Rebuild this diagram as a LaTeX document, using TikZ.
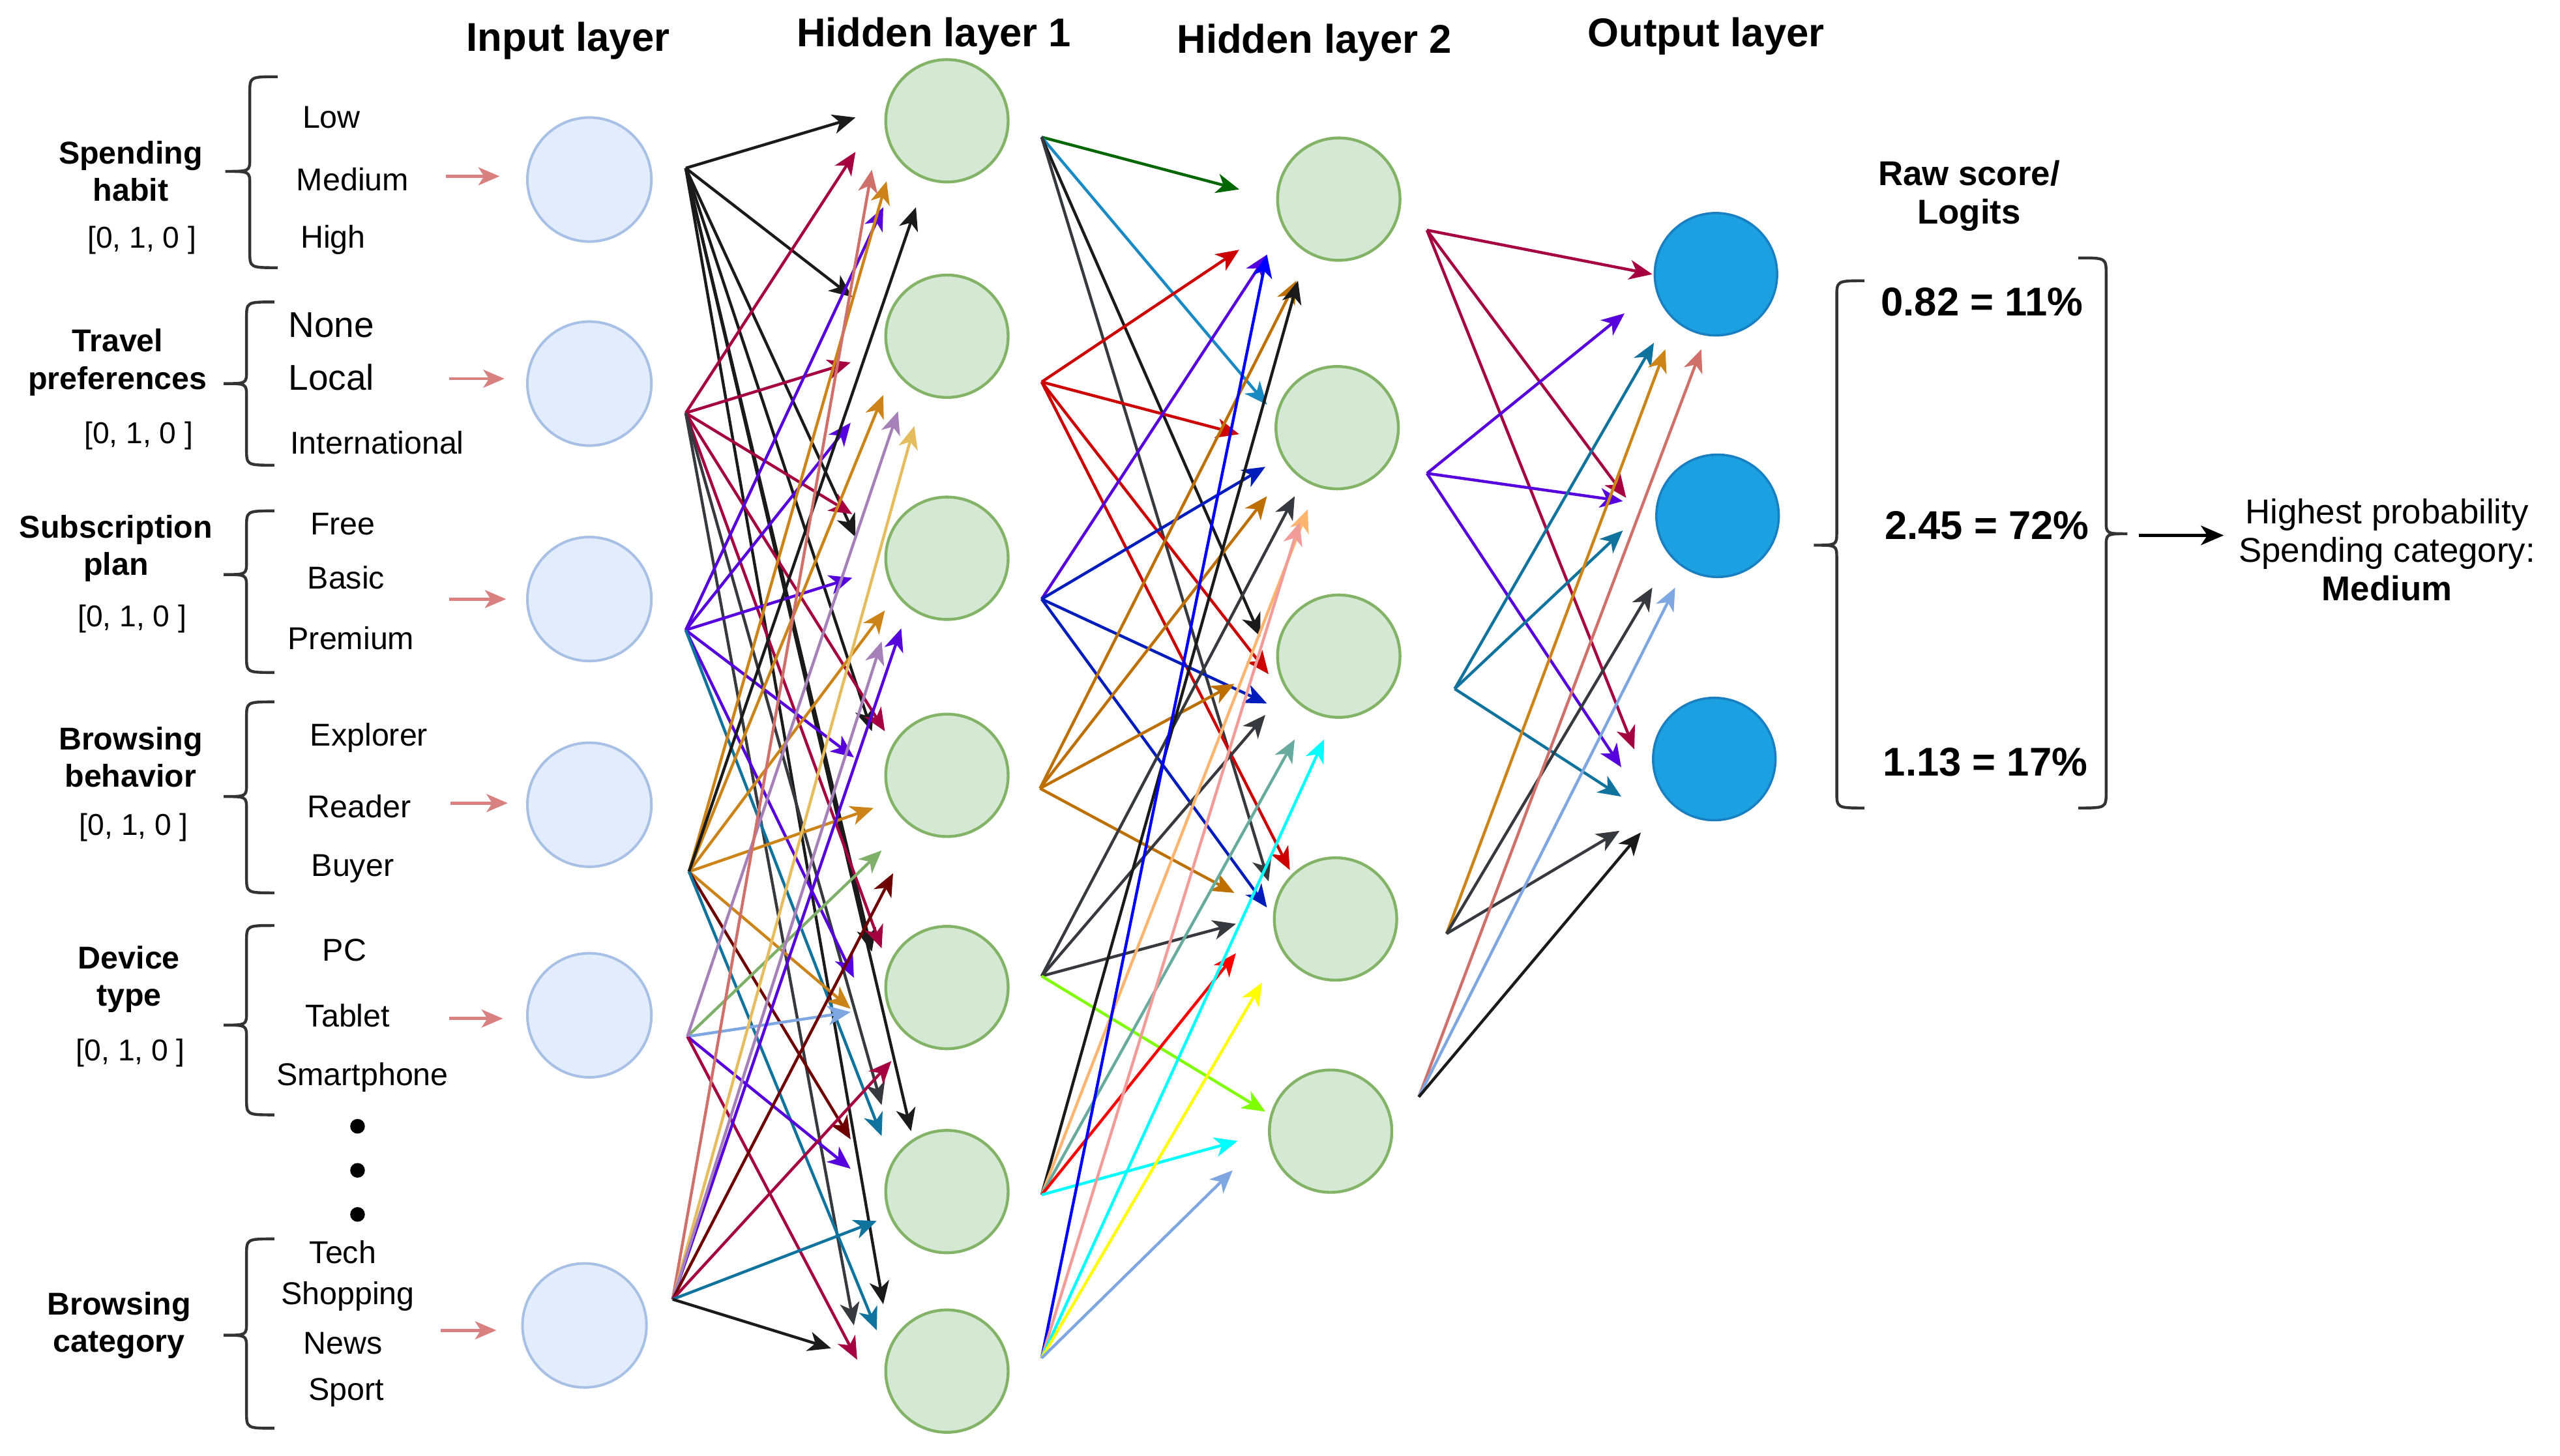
\documentclass[tikz,border=0pt]{standalone}
\usepackage{fontspec}
\setmainfont{Liberation Sans}
\usetikzlibrary{arrows.meta}
\definecolor{inpfill}{HTML}{E3ECFA}
\definecolor{inpdraw}{HTML}{A7C0E6}
\definecolor{hidfill}{HTML}{D5E8D4}
\definecolor{hiddraw}{HTML}{82B366}
\definecolor{outfill}{HTML}{1BA1E2}
\definecolor{outdraw}{HTML}{1A7FC0}
\definecolor{pinkarr}{HTML}{D98080}
\definecolor{bracecol}{HTML}{333333}
\definecolor{blk}{HTML}{1A1A1A}
\definecolor{dgray}{HTML}{36393D}
\definecolor{crim}{HTML}{A50040}
\definecolor{viol}{HTML}{5500DD}
\definecolor{orng}{HTML}{CC8418}
\definecolor{orng2}{HTML}{BD7000}
\definecolor{salm}{HTML}{D0706A}
\definecolor{lav}{HTML}{A680B8}
\definecolor{gold}{HTML}{E5BD5F}
\definecolor{grn}{HTML}{7FB069}
\definecolor{dred}{HTML}{6F0000}
\definecolor{lsb}{HTML}{7EA6E0}
\definecolor{bteal}{HTML}{10739E}
\definecolor{dgreen}{HTML}{006600}
\definecolor{lblue}{HTML}{1A8AC4}
\definecolor{redA}{HTML}{CC0000}
\definecolor{redB}{HTML}{FF0000}
\definecolor{dblue}{HTML}{001DBC}
\definecolor{bblue}{HTML}{0000FF}
\definecolor{lorange}{HTML}{FFB570}
\definecolor{pink}{HTML}{F19C99}
\definecolor{teal}{HTML}{67AB9F}
\definecolor{cyanx}{HTML}{00FFFF}
\definecolor{yelx}{HTML}{FFFF00}
\definecolor{ygreen}{HTML}{80FF00}
\newcommand{\mybrace}[6]{%
\draw[brc] (#5,#2) .. controls (#1,#2) .. (#1,#2+10) -- (#1,#3-8) .. controls (#1,#3) .. (#6,#3) .. controls (#1,#3) .. (#1,#3+8) -- (#1,#4-10) .. controls (#1,#4) .. (#5,#4);}
\begin{document}
\begin{tikzpicture}[x=0.02cm,y=-0.02cm,
 inp/.style={circle, minimum size=1.52cm, fill=inpfill, draw=inpdraw, line width=0.9pt},
 hid/.style={circle, minimum size=1.5cm, fill=hidfill, draw=hiddraw, line width=1pt},
 outn/.style={circle, minimum size=1.5cm, fill=outfill, draw=outdraw, line width=0.8pt},
 head/.style={font=\fontsize{14}{16}\selectfont\bfseries},
 feat/.style={font=\fontsize{11}{13}\selectfont\bfseries, align=center},
 vec/.style={font=\fontsize{10.5}{12}\selectfont},
 opt/.style={font=\fontsize{11}{13}\selectfont},
 optb/.style={font=\fontsize{12.5}{14}\selectfont},
 arr/.style={-{Stealth[length=2.8mm,width=2.4mm,inset=0.8mm]}, line width=1pt},
 parr/.style={-{Stealth[length=2.6mm,width=2.2mm,inset=0.7mm]}, line width=1.1pt, draw=pinkarr, color=pinkarr},
 brc/.style={draw=bracecol, line width=1pt},
 dotn/.style={circle, fill=black, inner sep=0pt, minimum size=0.18cm}]
\path[use as bounding box] (0,0) rectangle (1568,892);

% headings
\node[head] (hIn) at (348,25) {Input layer};
\node[head] (hH1) at (572,22) {Hidden layer 1};
\node[head] (hH2) at (805,26) {Hidden layer 2};
\node[head] (hOut) at (1045,22) {Output layer};

% feature labels
\node[feat] (f1) at (80,105) {Spending\\habit};
\node[vec] (v1) at (87,147) {[0, 1, 0 ]};
\node[feat] (f2) at (72,222) {Travel\\preferences};
\node[vec] (v2) at (85,267) {[0, 1, 0 ]};
\node[feat] (f3) at (71,336) {Subscription\\plan};
\node[vec] (v3) at (81,379) {[0, 1, 0 ]};
\node[feat] (f4) at (80,464) {Browsing\\behavior};
\node[vec] (v4) at (82,507) {[0, 1, 0 ]};
\node[feat] (f5) at (79,600) {Device\\type};
\node[vec] (v5) at (80,645) {[0, 1, 0 ]};
\node[feat] (f6) at (73,812) {Browsing\\category};

% braces
\mybrace{153}{47}{105}{164}{170}{138}
\mybrace{151}{185}{235}{285}{168}{137}
\mybrace{151}{313}{352}{412}{168}{137}
\mybrace{151}{430}{488}{547}{168}{137}
\mybrace{151}{567}{628}{683}{168}{137}
\mybrace{151}{759}{818}{875}{168}{137}

% options
\node[opt] (o11) at (203,72) {Low};
\node[opt] (o12) at (216,110) {Medium};
\node[opt] (o13) at (204,147) {High};
\node[optb] (o21) at (203,199) {None};
\node[optb] (o22) at (203,231) {Local};
\node[opt] (o23) at (231,271) {International};
\node[opt] (o31) at (210,321) {Free};
\node[opt] (o32) at (212,354) {Basic};
\node[opt] (o33) at (215,391) {Premium};
\node[opt] (o41) at (226,452) {Explorer};
\node[opt] (o42) at (220,494) {Reader};
\node[opt] (o43) at (216,532) {Buyer};
\node[opt] (o51) at (211,582) {PC};
\node[opt] (o52) at (213,622) {Tablet};
\node[opt] (o53) at (222,660) {Smartphone};
\node[opt] (o61) at (210,767) {Tech};
\node[opt] (o62) at (213,794) {Shopping};
\node[opt] (o63) at (210,823) {News};
\node[opt] (o64) at (212,853) {Sport};
\node[dotn] (d1) at (219,690) {};
\node[dotn] (d2) at (219,717) {};
\node[dotn] (d3) at (219,744) {};

% pink arrows
\foreach \i/\xa/\xb/\y in {1/273/306/108, 2/275/309/232, 3/275/310/367, 4/276/311/492, 5/275/308/624, 6/270/304/815}{
  \coordinate (pa\i) at (\xa,\y); \coordinate (pb\i) at (\xb,\y);
  \draw[parr] (pa\i) -- (pb\i);}

% layer nodes
\node[inp] (I1) at (361,110) {};
\node[inp] (I2) at (361,235) {};
\node[inp] (I3) at (361,367) {};
\node[inp] (I4) at (361,493) {};
\node[inp] (I5) at (361,622) {};
\node[inp] (I6) at (358,812) {};
\node[hid] (A1) at (580,74) {};
\node[hid] (A2) at (580,206) {};
\node[hid] (A3) at (580,342) {};
\node[hid] (A4) at (580,475) {};
\node[hid] (A5) at (580,605) {};
\node[hid] (A6) at (580,730) {};
\node[hid] (A7) at (580,840) {};
\node[hid] (B1) at (820,122) {};
\node[hid] (B2) at (819,262) {};
\node[hid] (B3) at (820,402) {};
\node[hid] (B4) at (818,563) {};
\node[hid] (B5) at (815,693) {};
\node[outn] (O1) at (1051,168) {};
\node[outn] (O2) at (1052,316) {};
\node[outn] (O3) at (1050,465) {};

% source points
\coordinate (s1) at (420,103);
\coordinate (s2) at (420,253);
\coordinate (s3) at (420,386);
\coordinate (s4) at (422,534);
\coordinate (s5) at (421,635);
\coordinate (s6) at (412,796);
\coordinate (t1) at (638,84);
\coordinate (t2) at (638,234);
\coordinate (t3) at (638,367);
\coordinate (t4) at (637,483);
\coordinate (t5) at (638,598);
\coordinate (t6) at (638,732);
\coordinate (t7) at (638,832);
\coordinate (u1) at (874,141);
\coordinate (u2) at (874,290);
\coordinate (u3) at (891,422);
\coordinate (u4) at (886,572);
\coordinate (u5) at (869,672);

% input -> hidden 1
\foreach \s/\x/\y/\c [count=\i] in {
 s1/524/72/blk, s1/522/182/blk, s1/524/329/blk, s1/534/448/blk, s1/534/583/blk, s1/558/693/blk, s1/541/799/blk,
 s2/524/93/crim, s2/521/222/crim, s2/522/315/crim, s2/542/448/crim, s2/540/581/crim, s2/540/677/dgray, s2/523/812/dgray,
 s3/541/127/viol, s3/521/259/viol, s3/522/354/viol, s3/523/464/viol, s3/523/599/viol, s3/540/696/bteal,
 s4/543/111/orng, s4/541/242/orng, s4/542/374/orng, s4/535/495/orng, s4/521/618/orng, s4/521/698/dred, s4/561/127/blk, s4/537/815/bteal,
 s5/540/521/grn, s5/521/620/lsb, s5/521/716/viol, s5/525/833/crim, s5/550/252/lav,
 s6/534/104/salm, s6/560/261/gold, s6/552/385/viol, s6/540/393/lav, s6/547/535/dred, s6/546/650/crim, s6/537/748/bteal, s6/509/826/blk}{
  \coordinate (ea\i) at (\x,\y);
  \draw[arr, color=\c] (\s) -- (ea\i);}

% hidden 1 -> hidden 2
\foreach \s/\x/\y/\c [count=\i] in {
 t1/759/116/dgreen, t1/776/248/lblue, t1/772/390/blk, t1/777/540/dgray,
 t2/759/153/redA, t2/759/266/redA, t2/777/413/redA, t2/790/533/redA,
 t3/776/156/viol, t3/775/286/dblue, t3/776/431/dblue, t3/776/556/dblue,
 t4/794/172/orng2, t4/776/304/orng2, t4/756/419/orng2, t4/756/547/orng2,
 t5/793/304/dgray, t5/775/438/dgray, t5/757/566/dgray, t5/775/681/ygreen,
 t6/795/172/blk, t6/801/312/lorange, t6/793/453/teal, t6/757/584/redB, t6/758/699/cyanx,
 t7/776/156/bblue, t7/796/320/pink, t7/811/453/cyanx, t7/773/602/yelx, t7/755/717/lsb}{
  \coordinate (eb\i) at (\x,\y);
  \draw[arr, color=\c] (\s) -- (eb\i);}

% hidden 2 -> output
\foreach \s/\x/\y/\c [count=\i] in {
 u1/1012/168/crim, u1/996/305/crim, u1/1001/459/crim,
 u2/995/192/viol, u2/994/307/viol, u2/993/470/viol,
 u3/1013/210/bteal, u3/994/325/bteal, u3/993/488/bteal,
 u4/1020/214/orng, u4/1012/360/dgray, u4/992/509/dgray,
 u5/1042/214/salm, u5/1026/360/lsb, u5/1005/510/blk}{
  \coordinate (ec\i) at (\x,\y);
  \draw[arr, color=\c] (\s) -- (ec\i);}

% right side
\node[font=\fontsize{12}{13.3}\selectfont\bfseries, align=center] (raw) at (1206,120) {Raw score/\\Logits};
\mybrace{1125}{172}{334}{495}{1142}{1111}
\mybrace{1290}{158}{327}{495}{1273}{1303}
\node[font=\fontsize{14}{16}\selectfont\bfseries] (p1) at (1214,185) {0.82 = 11\%};
\node[font=\fontsize{14}{16}\selectfont\bfseries] (p2) at (1217,322) {2.45 = 72\%};
\node[font=\fontsize{14}{16}\selectfont\bfseries] (p3) at (1216,467) {1.13 = 17\%};
\coordinate (rb) at (1310,328);
\coordinate (re) at (1362,328);
\draw[-{Stealth[length=2.8mm,width=2.4mm,inset=0.8mm]}, line width=1pt, black] (rb) -- (re);
\node[font=\fontsize{12}{13.4}\selectfont, align=center] (hp) at (1462,337) {Highest probability\\Spending category:\\\textbf{Medium}};
\end{tikzpicture}
\end{document}
